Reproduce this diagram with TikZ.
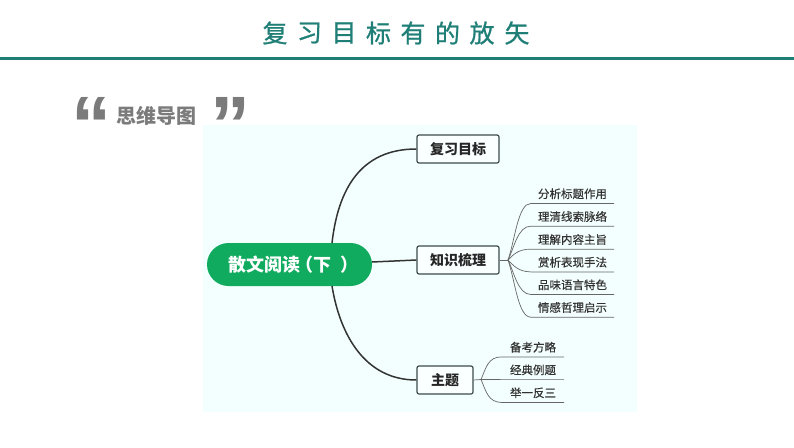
\documentclass[tikz,border=0pt]{standalone}
\usepackage{fontspec}
\setmainfont{Noto Sans CJK SC}
\newfontfamily\quotefont{Liberation Sans}
\newfontfamily\heavyfont[FakeBold=0.4]{Noto Sans CJK SC}
\newfontfamily\titlefont[FakeBold=0.8]{Noto Sans CJK SC}
\usetikzlibrary{shapes.misc}
\definecolor{tealbar}{HTML}{1F7F77}
\definecolor{panelbg}{HTML}{F3FFFE}
\definecolor{rootgreen}{HTML}{10AB5E}
\definecolor{boxline}{HTML}{3C4A4C}
\definecolor{quotegray}{HTML}{7B7B7B}
\tikzset{
    titlechar/.style={text=tealbar, font=\titlefont\fontsize{25}{25}\selectfont, inner sep=0pt},
    markquote/.style={text=quotegray, font=\quotefont\fontsize{80}{80}\selectfont\bfseries, inner sep=0pt},
    topicbox/.style={draw=boxline, line width=1.2pt, rounded corners=2pt, fill=white!60!panelbg, minimum height=28pt, inner sep=0pt, font=\fontsize{14}{14}\selectfont\bfseries, text=black!85},
    leafnode/.style={minimum height=19pt, inner sep=0pt, font=\heavyfont\fontsize{11.5}{12}\selectfont, text=black!80},
    mainline/.style={draw=black!80, line width=1.5pt},
    leafline/.style={draw=black!60, line width=0.7pt},
}
\begin{document}
\begin{tikzpicture}[x=1pt, y=-1pt]
    \useasboundingbox (0,0) rectangle (794,447);
    \fill[white] (0,0) rectangle (794,447);

    % title
    \node[titlechar] (t1) at (275,33) {复};
    \node[titlechar] (t2) at (309.5,33) {习};
    \node[titlechar] (t3) at (344,33) {目};
    \node[titlechar] (t4) at (378.5,33) {标};
    \node[titlechar] (t5) at (413,33) {有};
    \node[titlechar] (t6) at (447.5,33) {的};
    \node[titlechar] (t7) at (482,33) {放};
    \node[titlechar] (t8) at (517,33) {矢};
    \fill[tealbar] (0,56.5) rectangle (794,59.5);

    % heading
    \node[markquote] (quoteL) at (91,125) {“};
    \node[text=quotegray, font=\fontsize{20}{20}\selectfont\bfseries, inner sep=0pt] (mapname) at (156.5,116) {思维导图};
    \node[markquote] (quoteR) at (230,125) {”};

    % panel
    \fill[panelbg] (203,125) rectangle (637,412);

    % root and topics
    \node[rounded rectangle, fill=rootgreen, text=white, minimum width=165pt, minimum height=43pt, inner sep=0pt, font=\fontsize{18}{18}\selectfont\bfseries] (root) at (289.5,264.5) {\raisebox{-1.5pt}{\kern8pt 散文阅读\kern-5pt（\kern1pt 下\kern9pt ）}};
    \node[topicbox, minimum width=82pt] (goal) at (458,149) {复习目标};
    \node[topicbox, minimum width=82pt] (know) at (458,260) {知识梳理};
    \node[topicbox, minimum width=56pt] (theme) at (445,380) {主题};

    \coordinate (rootup) at (332,243);
    \coordinate (rootdown) at (332,286);
    \coordinate (rootright) at (372,262);
    \draw[mainline] (rootup) .. controls (338,190) and (360,149) .. (goal.west);
    \draw[mainline] (rootright) -- (know.west);
    \draw[mainline] (rootdown) .. controls (340,335) and (365,380) .. (theme.west);

    % leaves of know
    \coordinate (hubK) at (508,260);
    \draw[leafline] (know.east) -- (hubK);
    \node[leafnode, minimum width=83pt] (k1) at (572.5,193.8) {分析标题作用};
    \node[leafnode, minimum width=83pt] (k2) at (572.5,216.5) {理清线索脉络};
    \node[leafnode, minimum width=83pt] (k3) at (572.5,239.5) {理解内容主旨};
    \node[leafnode, minimum width=83pt] (k4) at (572.5,262.2) {赏析表现手法};
    \node[leafnode, minimum width=83pt] (k5) at (572.5,284.8) {品味语言特色};
    \node[leafnode, minimum width=83pt] (k6) at (572.5,307.5) {情感哲理启示};
    \draw[leafline] (hubK) .. controls (515,240) and (518,203.3) .. (k1.south west) -- (k1.south east);
    \draw[leafline] (hubK) .. controls (514,248) and (518,226) .. (k2.south west) -- (k2.south east);
    \draw[leafline] (hubK) .. controls (513,255) and (518,249) .. (k3.south west) -- (k3.south east);
    \draw[leafline] (hubK) .. controls (513,265) and (518,271.7) .. (k4.south west) -- (k4.south east);
    \draw[leafline] (hubK) .. controls (514,272) and (518,294.3) .. (k5.south west) -- (k5.south east);
    \draw[leafline] (hubK) .. controls (515,280) and (518,317) .. (k6.south west) -- (k6.south east);

    % leaves of theme
    \coordinate (hubT) at (481,379.5);
    \draw[leafline] (theme.east) -- (hubT);
    \node[leafnode, minimum width=62pt] (m1) at (533,347.2) {备考方略};
    \node[leafnode, minimum width=62pt] (m2) at (533,369.9) {经典例题};
    \node[leafnode, minimum width=62pt] (m3) at (533,392.8) {举一反三};
    \draw[leafline] (hubT) .. controls (486,368) and (488,356.7) .. (m1.south west) -- (m1.south east);
    \draw[leafline] (hubT) -- (m2.south west) -- (m2.south east);
    \draw[leafline] (hubT) .. controls (486,391) and (488,402.3) .. (m3.south west) -- (m3.south east);
\end{tikzpicture}
\end{document}
